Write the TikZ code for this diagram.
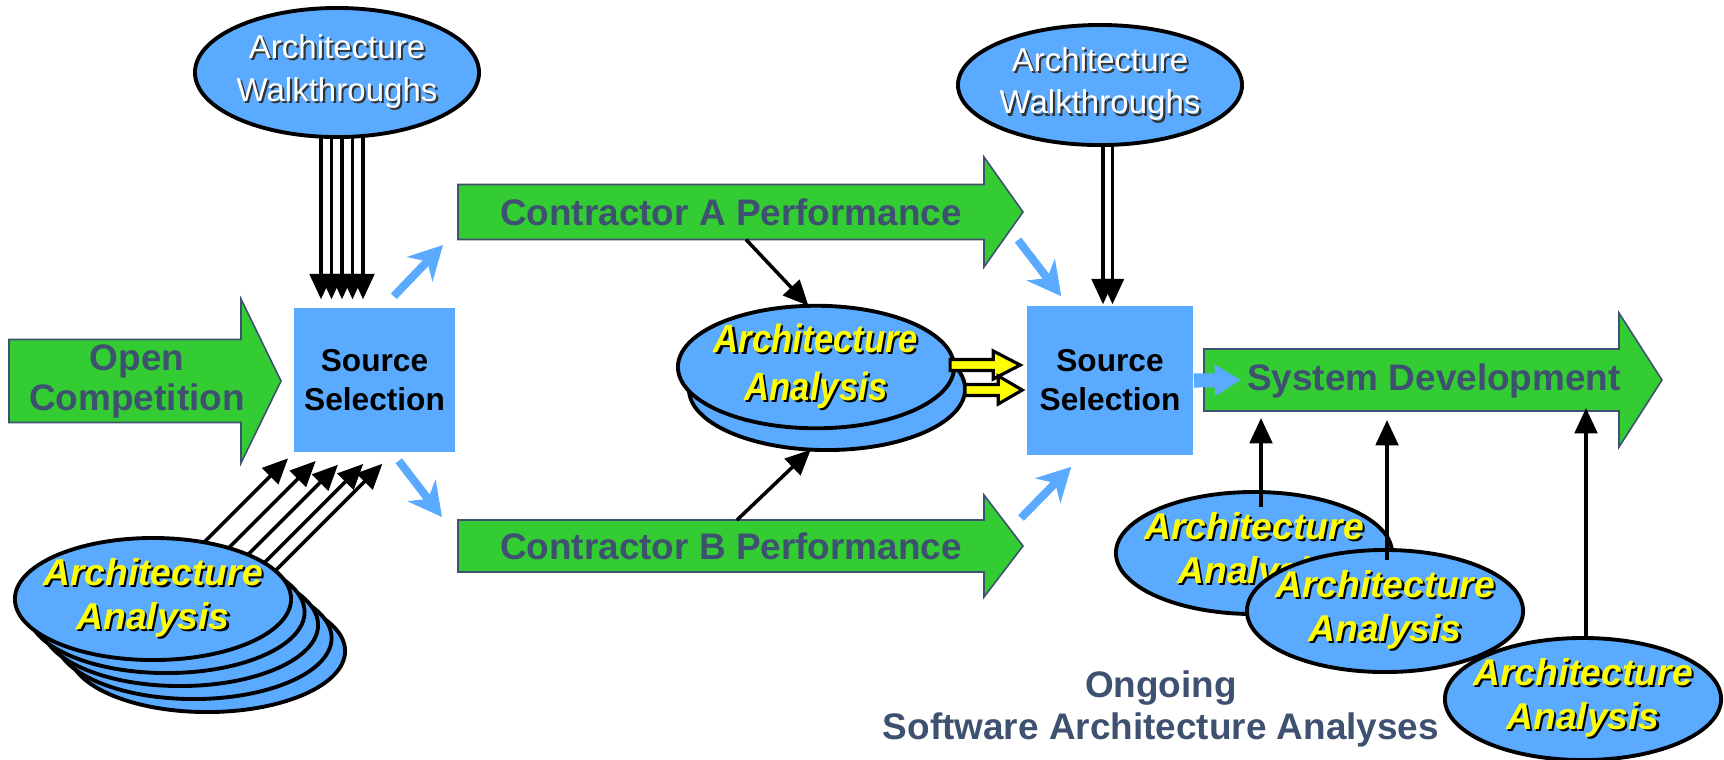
\documentclass[tikz,border=0pt]{standalone}
\usepackage{fontspec}
\setmainfont{Liberation Sans}
\newfontfamily\narrowsans[FakeStretch=0.88]{Liberation Sans}
\usepackage{tikz}
\usetikzlibrary{calc}
\usetikzlibrary{arrows.meta}
\usetikzlibrary{shapes.geometric}

\definecolor{skyblue}{HTML}{5AAAFF}
\definecolor{leafgreen}{HTML}{33CC33}
\definecolor{slate}{HTML}{3F5170}
\definecolor{lemon}{HTML}{FFFF00}

\newcommand{\shtext}[2]{\makebox[0pt][l]{\kern0.6pt\raisebox{-0.6pt}{\textcolor{#1}{#2}}}#2}
\newcommand{\blockarrow}[6][]{%
  \draw[#1] ($(#2)+(0,-#4)$) -- ($(#3)+(-#6,-#4)$) -- ($(#3)+(-#6,-#5)$) -- (#3)
    -- ($(#3)+(-#6,#5)$) -- ($(#3)+(-#6,#4)$) -- ($(#2)+(0,#4)$) -- cycle;}

\tikzset{
  walk/.style={ellipse, draw=black, line width=1.1pt, fill=skyblue, inner sep=0pt, outer sep=0pt,
    minimum width=2.76cm, minimum height=1.2cm, align=center, text=white,
    font=\fontsize{9.4}{12.2}\selectfont},
  analysis/.style={ellipse, draw=black, line width=1.1pt, fill=skyblue, inner ysep=0pt, inner xsep=-0.25cm,
    outer sep=0pt, minimum width=2.76cm, minimum height=1.22cm, align=center, text=lemon,
    font=\bfseries\itshape\fontsize{10.6}{12.4}\selectfont},
  selbox/.style={rectangle, fill=skyblue, inner sep=0pt, minimum width=1.61cm, minimum height=1.44cm,
    align=center, font=\bfseries\fontsize{9}{11.1}\selectfont},
  phase/.style={inner sep=0pt, align=center, text=slate, font=\bfseries\fontsize{10.5}{11.4}\selectfont},
  greenarrow/.style={fill=leafgreen, draw=slate, line width=0.45pt},
  yellowarrow/.style={fill=lemon, draw=black, line width=0.9pt},
  blk/.style={draw=black, line width=1pt, -{Triangle[length=7.2pt, width=6.4pt]}},
  flow/.style={draw=skyblue, line width=2.3pt, -{Stealth[length=9.5pt, width=10pt, inset=3pt]}},
  bigflow/.style={draw=skyblue, line width=4pt, -{Triangle[length=7.5pt, width=8.5pt]}}
}

\begin{document}
\begin{tikzpicture}[x=0.01cm, y=-0.01cm]
  \useasboundingbox (0,0) rectangle (1724,759);

  \coordinate (oc-t) at (9,381);
  \coordinate (oc-p) at (281,381);
  \coordinate (ca-t) at (458,212);
  \coordinate (ca-p) at (1023,212);
  \coordinate (cb-t) at (458,546);
  \coordinate (cb-p) at (1023,546);
  \coordinate (sd-t) at (1204,380);
  \coordinate (sd-p) at (1662,380);
  \coordinate (sd-b) at ($(sd-t)+(0,31)$);

  \blockarrow[greenarrow]{oc-t}{oc-p}{41.5}{82}{40}
  \blockarrow[greenarrow]{ca-t}{ca-p}{27.5}{55}{39}
  \blockarrow[greenarrow]{cb-t}{cb-p}{26}{51}{39}
  \blockarrow[greenarrow]{sd-t}{sd-p}{31}{67}{43}

  \node[phase] (oc) at (137,381) {Open\\Competition};
  \node[phase] (ca) at (731,212) {Contractor A Performance};
  \node[phase] (cb) at (731,546) {Contractor B Performance};
  \node[phase] (sd) at (1434,381) {System Development};
  \node[phase, font=\bfseries\fontsize{10.5}{12}\selectfont] (og) at (1161,709) {Ongoing\\Software Architecture Analyses};

  \node[selbox] (ss1) at (374.5,380) {Source\\Selection};
  \node[selbox, minimum width=1.66cm, minimum height=1.49cm] (ss2) at (1110,380.5) {Source\\Selection};

  \node[walk, minimum width=2.77cm, minimum height=1.29cm] (w1) at (337,72.5)
    {\shtext{black!80}{Architecture}\\\shtext{black!80}{Walkthroughs}};
  \node[walk] (w2) at (1100,85)
    {\shtext{black!80}{Architecture}\\\shtext{black!80}{Walkthroughs}};

  \node[analysis] (mb) at (827,389) {};
  \node[analysis, font=\narrowsans\bfseries\itshape\fontsize{11.2}{13.6}\selectfont] (ma) at (816,367)
    {\shtext{black}{Architecture}\\\shtext{black}{Analysis}};

  \foreach \k in {4,3,2,1}
    \node[analysis] (aa\k) at (153+13.5*\k,599+13*\k) {};
  \node[analysis] (aa0) at (153,599) {\shtext{black}{Architecture}\\\shtext{black}{Analysis}};

  \node[analysis] (ra1) at (1254,553) {\shtext{black}{Architecture}\\\shtext{black}{Analysis}};
  \node[analysis] (ra2) at (1385,611) {\shtext{black}{Architecture}\\\shtext{black}{Analysis}};
  \node[analysis] (ra3) at (1583,699) {\shtext{black}{Architecture}\\\shtext{black}{Analysis}};

  \foreach \dx in {-16,-5.5,5,15.5,26}
    \draw[blk] ($(w1.south)+(\dx,0)$) -- ($(w1.south |- ss1.north)+(\dx,-8)$);
  \foreach \dx in {3,12.5}
    \draw[blk] ($(w2.south)+(\dx,0)$) -- ($(w2.south |- ss2.north)+(\dx,-1)$);
  \foreach \a/\l in {48/84,34/87,25/90,18/99,13/107}
    \draw[blk] (aa0.\a) -- ++(\l,-\l);

  \draw[blk] ($(ca-t)+(288,27.5)$) -- (ma.97);
  \draw[blk] ($(cb-t)+(279,-26)$) -- (mb.255);

  \draw[blk] ($(ra1.north)+(7,15)$) -- ($(ra1.north |- sd-b)+(7,7)$);
  \draw[blk] ($(ra2.north)+(2,10)$) -- ($(ra2.north |- sd-b)+(2,9)$);
  \draw[blk] ($(ra3.north)+(3,0)$) -- ($(ra3.north |- sd-b)+(3,-3)$);

  \coordinate (y1t) at ($(ma.east)+(-4,-2)$);
  \coordinate (y1p) at ($(ss2.west |- y1t)+(-6,0)$);
  \coordinate (y2t) at ($(mb.east)+(0,1)$);
  \coordinate (y2p) at ($(ss2.west |- y2t)+(-4,0)$);
  \blockarrow[yellowarrow]{y1t}{y1p}{5.5}{14}{27}
  \blockarrow[yellowarrow]{y2t}{y2p}{5.5}{14}{24}

  \draw[flow] ($(ss1.north east)+(-62,-11)$) -- ($(ca-t)+(-15,33)$);
  \draw[flow] ($(ss1.south east)+(-57,8)$) -- ($(cb-t)+(-16,-29)$);
  \draw[flow] ($(ca-p)+(-5,28)$) -- ($(ss2.north west)+(35,-9)$);
  \draw[flow] ($(cb-p)+(-2,-28)$) -- ($(ss2.south west)+(45,11)$);
  \draw[bigflow] (ss2.east) -- ($(sd-t)+(37,0)$);
\end{tikzpicture}
\end{document}
